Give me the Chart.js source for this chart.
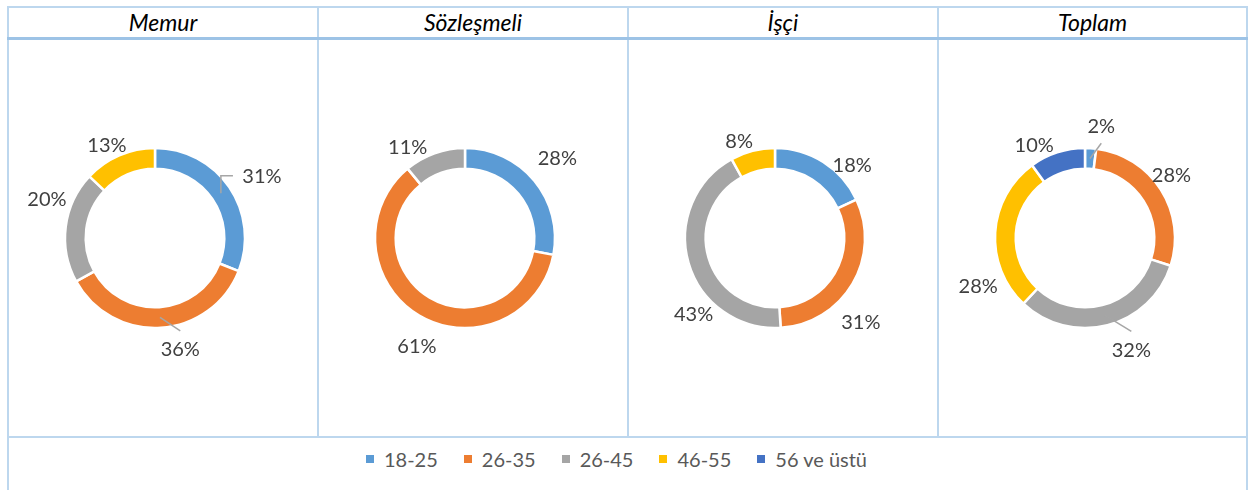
<!DOCTYPE html>
<html>
<head>
<meta charset="utf-8">
<script src="https://cdn.jsdelivr.net/npm/chart.js@4"></script>
<style>
  html, body { margin:0; padding:0; background:#fff; }
  body { width:1249px; height:490px; position:relative; overflow:hidden; font-family: Lato, "Open Sans", sans-serif; }
  .ln { position:absolute; background:#BDD7EE; }
  .thick { position:absolute; background:#9DC3E6; }
  .title { position:absolute; top:8px; height:29px; line-height:29px; text-align:center; font-style:italic; font-weight:400; font-size:23px; color:#000; }
  .cell { position:absolute; top:40px; height:396px; }
  #legend { position:absolute; left:8px; width:1239px; top:447px; height:24px; display:flex; justify-content:center; align-items:center; font-size:20px; line-height:24px; color:#595959; transform:translateX(-11px); }
  .li { display:flex; align-items:center; margin:0 13px; }
  .sw { width:8px; height:8px; margin-right:10px; }
</style>
</head>
<body>
<div id="frame"></div>
<div id="legend"></div>
<script>
// ---- data ----
const CATEGORIES = ['18-25', '26-35', '26-45', '46-55', '56 ve üstü'];
const TITLES = ['Memur', 'Sözleşmeli', 'İşçi', 'Toplam'];
const MEMUR = [31, 36, 20, 13, 0];
const SOZLESMELI = [28, 61, 11, 0, 0];
const ISCI = [18, 31, 43, 8, 0];
const TOPLAM = [2, 28, 32, 28, 10];
const SERIES = [MEMUR, SOZLESMELI, ISCI, TOPLAM];

// ---- styling / layout ----
const COLORS = ['#5B9BD5', '#ED7D31', '#A5A5A5', '#FFC000', '#4472C4'];
const CELL_LEFT = [9, 319, 629, 939];
const CELL_WIDTH = [308, 308, 308, 307];
// label nudges (px) from the radial anchor, per chart per slice
const LABEL_NUDGE = [
  [[11, 3], [18, -5], [7, -25], [-2, 13.5], [0, 0]],
  [[3, -6], [11, 8], [-18, 18], [0, 0], [0, 0]],
  [[15, 25], [-14, 25], [30, 43], [-7, 15], [0, 0]],
  [[9, 4], [-11.5, -1], [17.5, -1], [9, 55], [-15, 17]]
];
const LEADERS = [
  ['elbow', 'line', null, null, null],
  [null, null, null, null, null],
  [null, null, null, null, null],
  ['line', null, 'line', null, null]
];

// ---- frame ----
const frame = document.getElementById('frame');
function box(cls, l, t, w, h) {
  const d = document.createElement('div');
  d.className = cls;
  d.style.left = l + 'px'; d.style.top = t + 'px';
  d.style.width = w + 'px'; d.style.height = h + 'px';
  frame.appendChild(d);
}
box('ln', 7, 6, 1241, 2);
box('ln', 7, 6, 2, 484);
box('ln', 1246, 6, 2, 484);
[317, 627, 937].forEach(x => box('ln', x, 6, 2, 431));
box('ln', 7, 436, 1241, 2);
box('thick', 7, 37, 1241, 3);

TITLES.forEach((t, i) => {
  const d = document.createElement('div');
  d.className = 'title';
  d.style.left = CELL_LEFT[i] + 'px';
  d.style.width = CELL_WIDTH[i] + 'px';
  d.textContent = t;
  frame.appendChild(d);
});

// ---- legend ----
const legend = document.getElementById('legend');
CATEGORIES.forEach((c, i) => {
  const it = document.createElement('div'); it.className = 'li';
  const sw = document.createElement('div'); sw.className = 'sw'; sw.style.background = COLORS[i];
  const tx = document.createElement('span'); tx.textContent = c;
  it.appendChild(sw); it.appendChild(tx); legend.appendChild(it);
});

// ---- label plugin ----
const labelPlugin = {
  id: 'outLabels',
  afterDatasetsDraw(chart) {
    const idx = chart.options.plugins.outLabels.index;
    const ctx = chart.ctx;
    const meta = chart.getDatasetMeta(0);
    const data = chart.data.datasets[0].data;
    const total = data.reduce((a, b) => a + b, 0);
    ctx.save();
    ctx.font = '20px Lato, "Open Sans", sans-serif';
    ctx.textAlign = 'center';
    ctx.textBaseline = 'alphabetic';
    meta.data.forEach((arc, i) => {
      const v = data[i];
      if (!v) return;
      const p = arc.getProps(['x', 'y', 'startAngle', 'endAngle', 'innerRadius', 'outerRadius'], true);
      const mid = (p.startAngle + p.endAngle) / 2;
      const dist = p.outerRadius + 26;
      const n = LABEL_NUDGE[idx][i];
      const lx = p.x + Math.cos(mid) * dist + n[0];
      const ly = p.y + Math.sin(mid) * dist + n[1];
      const lead = LEADERS[idx][i];
      if (lead) {
        const rm = (p.innerRadius + p.outerRadius) / 2;
        const sx = p.x + Math.cos(mid) * rm;
        const sy = p.y + Math.sin(mid) * rm;
        ctx.strokeStyle = '#A6A6A6';
        ctx.lineWidth = 1.5;
        ctx.beginPath();
        ctx.moveTo(sx, sy);
        if (lead === 'elbow') {
          ctx.lineTo(sx, ly);
          ctx.lineTo(lx - 29, ly);
        } else {
          ctx.lineTo(lx, ly + (sy > ly ? 17 : -18));
        }
        ctx.stroke();
      }
      ctx.fillStyle = '#404040';
      const txt = Math.round(v / total * 100) + '%';
      ctx.fillText(txt, lx, ly + 7.2);
    });
    ctx.restore();
  }
};

// ---- charts ----
SERIES.forEach((values, i) => {
  const cell = document.createElement('div');
  cell.className = 'cell';
  cell.style.left = CELL_LEFT[i] + 'px';
  cell.style.width = CELL_WIDTH[i] + 'px';
  const cv = document.createElement('canvas');
  cell.appendChild(cv);
  frame.appendChild(cell);
  new Chart(cv, {
    type: 'doughnut',
    data: {
      labels: CATEGORIES,
      datasets: [{
        data: values,
        backgroundColor: COLORS,
        borderColor: '#ffffff',
        borderWidth: 2.5,
        hoverOffset: 0
      }]
    },
    options: {
      responsive: true,
      maintainAspectRatio: false,
      animation: false,
      events: [],
      radius: 90,
      cutout: '77%',
      layout: { padding: { right: CELL_WIDTH[i] - 292 } },
      plugins: {
        legend: { display: false },
        tooltip: { enabled: false },
        outLabels: { index: i }
      }
    },
    plugins: [labelPlugin]
  });
});
</script>
</body>
</html>
